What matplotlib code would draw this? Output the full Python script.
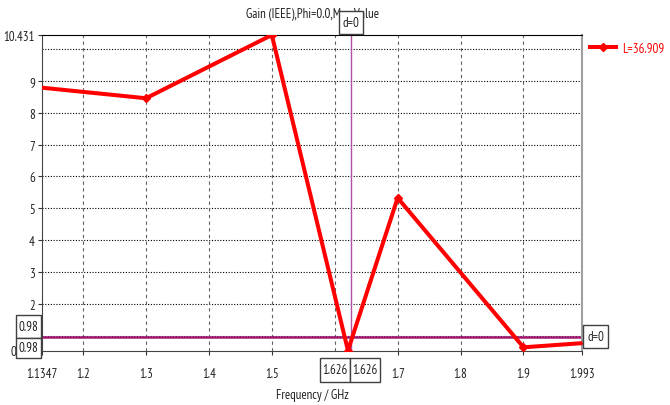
import matplotlib
matplotlib.use("Agg")
import matplotlib.pyplot as plt
from matplotlib.patches import Rectangle

plt.rcParams['font.family'] = ['PT Sans Narrow', 'DejaVu Sans']

# data
freq = [1.1, 1.3, 1.5, 1.621, 1.7, 1.9, 2.0]
gain = [8.85, 8.45, 10.431, 0.55, 5.33, 0.65, 0.79]
label = "L=36.909"

x_min, x_max = 1.1347, 1.993
y_min, y_max = 0.55, 10.431
x_ticks = [1.1347, 1.2, 1.3, 1.4, 1.5, 1.7, 1.8, 1.9, 1.993]
x_ticklabels = ["1.1347", "1.2", "1.3", "1.4", "1.5", "1.7", "1.8", "1.9", "1.993"]
x_grid = [1.2, 1.3, 1.4, 1.5, 1.6, 1.7, 1.8, 1.9]
y_ticks = [2, 3, 4, 5, 6, 7, 8, 9, 10.431]
y_ticklabels = ["2", "3", "4", "5", "6", "7", "8", "9", "10.431"]
y_grid = [1, 2, 3, 4, 5, 6, 7, 8, 9, 10]
marker_x = 1.626
marker_y = 0.98

W, H = 670, 406
fs = 9.3
fig = plt.figure(figsize=(W / 100, H / 100), dpi=100)
ax = fig.add_axes([42 / W, 1 - 351.5 / H, 540 / W, 315.5 / H])

for g in y_grid:
    ax.axhline(g, color='black', lw=0.8, ls=(0, (1, 1.5)), zorder=1)
for g in x_grid:
    ax.axvline(g, color='#606060', lw=0.8, ls=(0, (3, 3)), zorder=1)

ax.axhline(marker_y, color='#a01870', lw=1.8, zorder=2)
ax.axvline(marker_x, color='#b050a0', lw=1.0, zorder=2)

ax.plot(freq, gain, color='#ff0000', lw=2.9, marker='D', ms=4.5,
        label=label, zorder=3, clip_on=True)

ax.set_xlim(x_min, x_max)
ax.set_ylim(y_min, y_max)
ax.set_xticks(x_ticks)
ax.set_xticklabels(x_ticklabels)
ax.set_yticks(y_ticks)
ax.set_yticklabels(y_ticklabels)
ax.tick_params(labelsize=fs, length=3, width=0.8, colors='#333333',
               labelcolor='#222222', pad=2)
ax.tick_params(axis='x', pad=9)

for s in ['left', 'bottom']:
    ax.spines[s].set_color('#444444')
ax.spines['top'].set_color('black')
ax.spines['right'].set_color('#a0a0a0')
ax.spines['right'].set_linewidth(1.5)

ax.set_xlabel("Frequency / GHz", fontsize=fs, color='#222222', labelpad=6)
ax.set_title("Gain (IEEE),Phi=0.0,Max Value", fontsize=fs, color='#222222', pad=13)

leg = ax.legend(loc='upper left', bbox_to_anchor=(1.005, 0.995), frameon=False,
                fontsize=fs, handlelength=2.0, handletextpad=0.5, borderaxespad=0)
for t in leg.get_texts():
    t.set_color('#ff0000')

# lower axis limit label, sitting left of the marker boxes
fig.text(13 / W, 1 - 352 / H, "0", ha='center', va='center', fontsize=fs,
         color='#222222')


def box(x0, y0, x1, y1, text):
    # pixel coords measured from the top-left corner
    r = Rectangle((x0 / W, 1 - y1 / H), (x1 - x0) / W, (y1 - y0) / H,
                  transform=fig.transFigure, facecolor='white',
                  edgecolor='#404040', lw=1, zorder=10)
    fig.add_artist(r)
    fig.text((x0 + x1) / 2 / W, 1 - (y0 + y1) / 2 / H, text, ha='center',
             va='center', fontsize=fs, color='#222222', zorder=11)


box(339, 12, 363, 35, "d=0")
box(583, 326, 608, 349, "d=0")
box(16, 316, 41, 339, "0.98")
box(16, 339, 41, 359, "0.98")
box(320, 359, 350, 383, "1.626")
box(350, 359, 380, 383, "1.626")

fig.savefig("out.png", dpi=100)
